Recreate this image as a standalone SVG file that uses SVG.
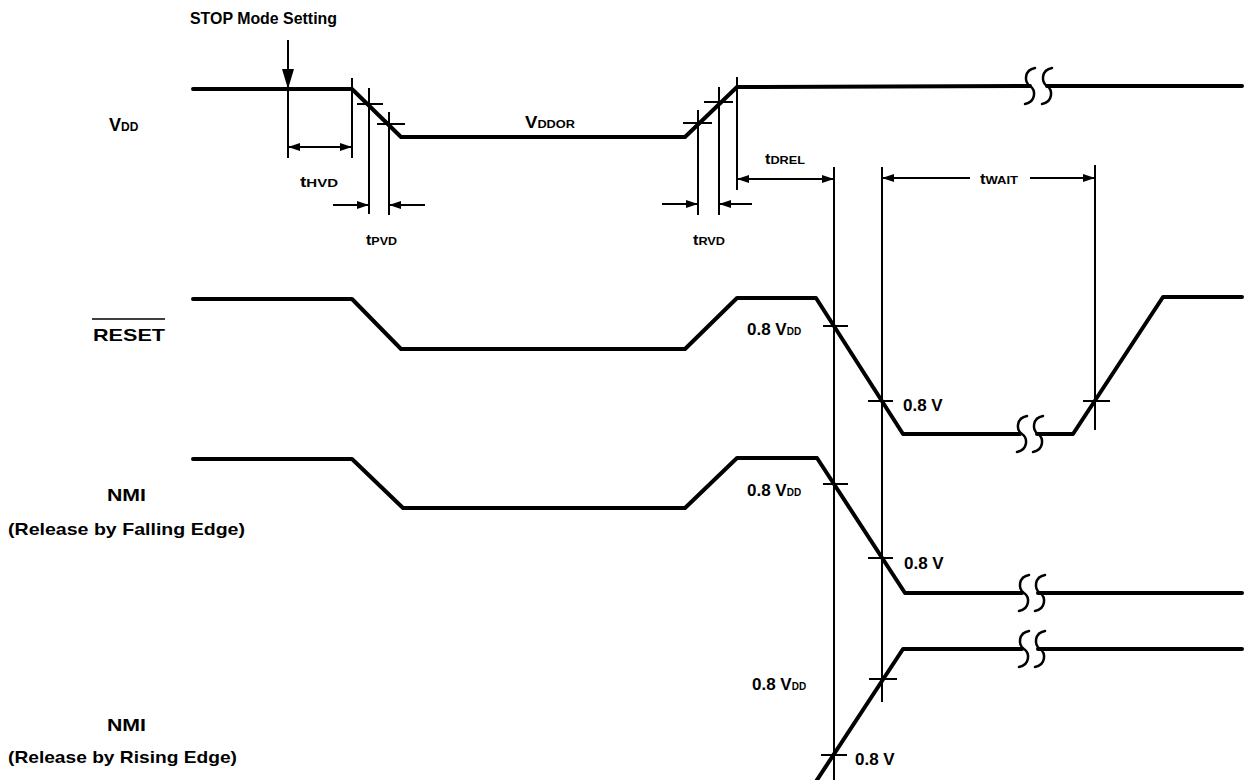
<svg xmlns="http://www.w3.org/2000/svg" width="1246" height="780" viewBox="0 0 1246 780">
<style>
.w{fill:none;stroke:#000;stroke-width:4;stroke-linejoin:round;stroke-linecap:round}
.v{fill:none;stroke:#000;stroke-width:2}
.d{fill:none;stroke:#000;stroke-width:2}
.brk{fill:none;stroke:#000;stroke-width:2.5;stroke-linecap:round}
text{font-family:"Liberation Sans",Arial,sans-serif;font-weight:bold;fill:#000}
.lbl{font-size:17px}
.sm{font-size:13px}
.sub{font-size:10px}
</style>
<defs>
<marker id="ah" viewBox="0 0 12 8" refX="12" refY="4" markerWidth="13" markerHeight="8" markerUnits="userSpaceOnUse" orient="auto-start-reverse">
<path d="M0,0 L12,4 L0,8 Z" fill="#000"/>
</marker>
<marker id="ahbig" viewBox="0 0 20 12" refX="20" refY="6" markerWidth="20" markerHeight="12" markerUnits="userSpaceOnUse" orient="auto">
<path d="M0,0 L20,6 L0,12 Z" fill="#000"/>
</marker>
<path id="s" d="M5,-18 C-6,-16 -6,-4 0,0 C6,4 6,16 -5,18"/>
</defs>

<g id="labels">
<text class="lbl" x="190" y="24" textLength="147" lengthAdjust="spacingAndGlyphs">STOP Mode Setting</text>
<text x="109" y="131" font-size="18">V<tspan font-size="12">DD</tspan></text>
<text class="lbl" x="93" y="341" textLength="72" lengthAdjust="spacingAndGlyphs">RESET</text>
<line x1="92" y1="319" x2="165" y2="319" stroke="#000" stroke-width="1.5"/>
<text class="lbl" x="107" y="501" textLength="39" lengthAdjust="spacingAndGlyphs">NMI</text>
<text class="lbl" x="8" y="535" textLength="237" lengthAdjust="spacingAndGlyphs">(Release by Falling Edge)</text>
<text class="lbl" x="107" y="731" textLength="39" lengthAdjust="spacingAndGlyphs">NMI</text>
<text class="lbl" x="8" y="763" textLength="229" lengthAdjust="spacingAndGlyphs">(Release by Rising Edge)</text>
</g>

<g id="vdd">
<path class="w" d="M193,89 L352,89 L401,137 L685,137 L737,87 L1030,86"/>
<path class="w" d="M1047,86 L1242,86"/>
<use href="#s" class="brk" x="1030" y="86"/>
<use href="#s" class="brk" x="1047" y="86"/>
<text x="525" y="128" font-size="16" textLength="50" lengthAdjust="spacingAndGlyphs">V<tspan font-size="11">DDOR</tspan></text>
</g>

<g id="reset">
<path class="w" d="M193,299 L352,299 L401,349 L685,349 L737,298 L816,298 L903,434 L1020,434"/>
<path class="w" d="M1037,434 L1073,434 L1163,297 L1242,297"/>
<use href="#s" class="brk" x="1022" y="434"/>
<use href="#s" class="brk" x="1038" y="434"/>
<text class="lbl" x="747" y="335">0.8 V<tspan class="sub" font-size="11">DD</tspan></text>
<text class="lbl" x="903" y="411">0.8 V</text>
</g>

<g id="nmi-falling">
<path class="w" d="M193,459 L352,459 L403,508 L685,508 L737,458 L817,458 L905,593 L1022,593"/>
<path class="w" d="M1038,593 L1242,593"/>
<use href="#s" class="brk" x="1024" y="593"/>
<use href="#s" class="brk" x="1040" y="593"/>
<text class="lbl" x="747" y="496">0.8 V<tspan class="sub" font-size="11">DD</tspan></text>
<text class="lbl" x="904" y="569">0.8 V</text>
</g>

<g id="nmi-rising">
<path class="w" d="M815,783 L903,649 L1022,649"/>
<path class="w" d="M1038,649 L1242,649"/>
<use href="#s" class="brk" x="1024" y="649"/>
<use href="#s" class="brk" x="1040" y="649"/>
<text class="lbl" x="752" y="690">0.8 V<tspan class="sub" font-size="11">DD</tspan></text>
<text class="lbl" x="855" y="765">0.8 V</text>
</g>

<g id="connectors">
<!-- STOP arrow -->
<line class="d" x1="288" y1="40" x2="288" y2="89" marker-end="url(#ahbig)" stroke-width="2.5"/>
<!-- verticals -->
<line class="v" x1="288" y1="89" x2="288" y2="158"/>
<line class="v" x1="352" y1="78" x2="352" y2="158"/>
<line class="v" x1="369" y1="88" x2="369" y2="214"/>
<line class="v" x1="389" y1="112" x2="389" y2="215"/>
<line class="v" x1="698" y1="110" x2="698" y2="215"/>
<line class="v" x1="719" y1="87" x2="719" y2="215"/>
<line class="v" x1="737" y1="77" x2="737" y2="190"/>
<line class="v" x1="834" y1="167" x2="834" y2="780"/>
<line class="v" x1="882" y1="167" x2="882" y2="702"/>
<line class="v" x1="1095" y1="165" x2="1095" y2="430"/>
<!-- crosshairs -->
<line class="v" x1="357" y1="104" x2="383" y2="104"/>
<line class="v" x1="377" y1="124" x2="405" y2="124"/>
<line class="v" x1="683" y1="123" x2="712" y2="123"/>
<line class="v" x1="704" y1="102" x2="733" y2="102"/>
<line class="v" x1="823" y1="326" x2="848" y2="326"/>
<line class="v" x1="868" y1="401" x2="893" y2="401"/>
<line class="v" x1="1083" y1="401" x2="1110" y2="401"/>
<line class="v" x1="823" y1="484" x2="848" y2="484"/>
<line class="v" x1="868" y1="558" x2="893" y2="558"/>
<line class="v" x1="869" y1="679" x2="897" y2="679"/>
<line class="v" x1="821" y1="755" x2="847" y2="755"/>
<!-- dimension arrows -->
<line class="d" x1="288" y1="147" x2="352" y2="147" marker-start="url(#ah)" marker-end="url(#ah)"/>
<line class="d" x1="333" y1="205" x2="369" y2="205" marker-end="url(#ah)"/>
<line class="d" x1="425" y1="205" x2="389" y2="205" marker-end="url(#ah)"/>
<line class="d" x1="662" y1="204" x2="698" y2="204" marker-end="url(#ah)"/>
<line class="d" x1="752" y1="204" x2="719" y2="204" marker-end="url(#ah)"/>
<line class="d" x1="737" y1="179" x2="834" y2="179" marker-start="url(#ah)" marker-end="url(#ah)"/>
<line class="d" x1="970" y1="178" x2="882" y2="178" marker-end="url(#ah)"/>
<line class="d" x1="1030" y1="178" x2="1095" y2="178" marker-end="url(#ah)"/>
</g>

<g id="timing-labels">
<text x="300" y="187" font-size="14" textLength="38" lengthAdjust="spacingAndGlyphs">t<tspan font-size="11">HVD</tspan></text>
<text x="366" y="245" font-size="14" textLength="31" lengthAdjust="spacingAndGlyphs">t<tspan font-size="11">PVD</tspan></text>
<text x="693" y="245" font-size="14" textLength="32" lengthAdjust="spacingAndGlyphs">t<tspan font-size="11">RVD</tspan></text>
<text x="765" y="164" font-size="14" textLength="40" lengthAdjust="spacingAndGlyphs">t<tspan font-size="11">DREL</tspan></text>
<text x="980" y="184" font-size="14" textLength="38" lengthAdjust="spacingAndGlyphs">t<tspan font-size="11">WAIT</tspan></text>
</g>
</svg>
